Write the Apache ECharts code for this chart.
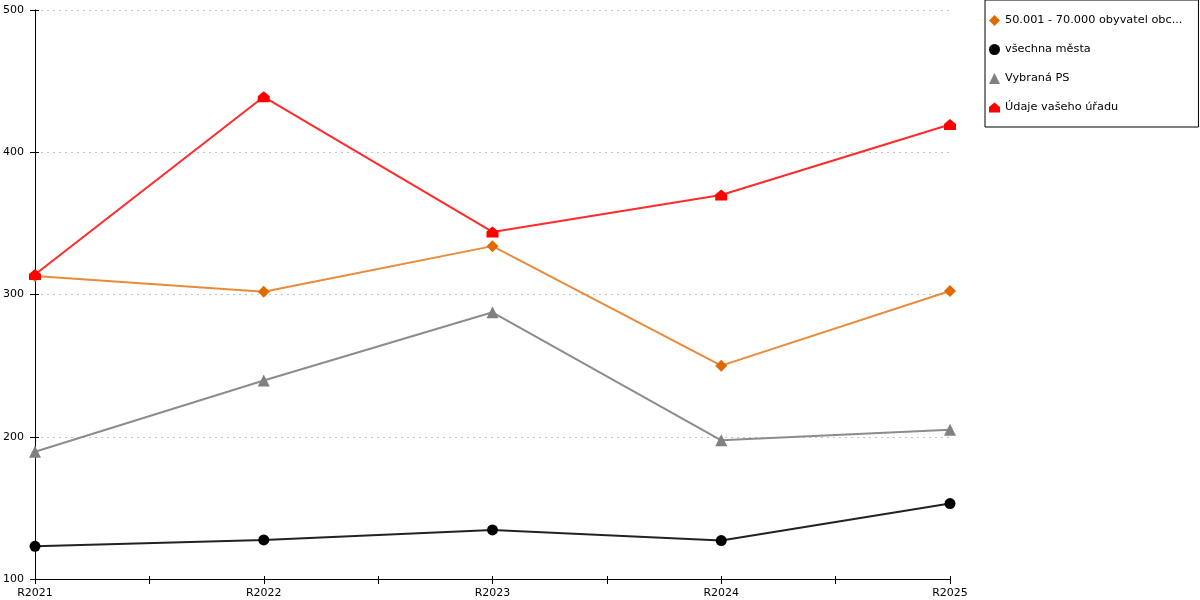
<!DOCTYPE html>
<html><head><meta charset="utf-8">
<script src="https://cdn.jsdelivr.net/npm/echarts@6/dist/echarts.min.js"></script>
<style>html,body{margin:0;padding:0;background:#fff}#c{width:1200px;height:600px}</style>
</head><body><div id="c"></div>
<script>
const categories = ['R2021','R2022','R2023','R2024','R2025'];
const seriesNames = ['50.001 - 70.000 obyvatel obc...','všechna města','Vybraná PS','Údaje vašeho úřadu'];
const orangeValues = [313, 302, 334, 250, 302.5];
const blackValues = [123, 127.5, 134.5, 127, 153];
const grayValues = [189.5, 239.5, 287.5, 197.5, 205];
const redValues = [314, 439, 344, 370, 419.5];
const yTicks = [100, 200, 300, 400, 500];

const house = 'path://M6,0 L12,5 L12,11 L0,11 L0,5 Z';
const font = 'DejaVu Sans';
function pts(arr){ return arr.map((v,i)=>[i,v]); }

const chart = echarts.init(document.getElementById('c'), null, {renderer:'canvas'});
chart.setOption({
  animation:false,
  textStyle:{fontFamily:font},
  grid:{left:35, right:250, top:10, bottom:21},
  legend:{
    orient:'vertical', left:985, top:0,
    padding:[15,16,14,4], itemGap:18, itemWidth:11, itemHeight:11,
    borderColor:'#000', borderWidth:1, backgroundColor:'#fff',
    textStyle:{fontFamily:font, fontSize:11.3, color:'#000'},
    data:[
      {name:seriesNames[0], icon:'diamond'},
      {name:seriesNames[1], icon:'circle'},
      {name:seriesNames[2], icon:'triangle'},
      {name:seriesNames[3], icon:house}
    ]
  },
  xAxis:[{
    type:'value', min:0, max:categories.length-1, interval:0.5,
    axisLine:{show:true, lineStyle:{color:'#000', width:1}},
    axisTick:{show:true, length:5, lineStyle:{color:'#000'}},
    axisLabel:{fontFamily:font, fontSize:11, color:'#000', margin:9,
      formatter:v=> Number.isInteger(v) ? categories[v] : ''},
    splitLine:{show:false}
  },{
    type:'value', min:0, max:categories.length-1, interval:0.5, position:'bottom',
    axisLine:{show:false},
    axisTick:{show:true, inside:true, length:3, lineStyle:{color:'#000'}},
    axisLabel:{show:false}, splitLine:{show:false}
  }],
  yAxis:[{
    type:'value', min:100, max:500, interval:100,
    axisLine:{show:true, lineStyle:{color:'#000', width:1}},
    axisTick:{show:true, length:5, lineStyle:{color:'#000'}},
    axisLabel:{fontFamily:font, fontSize:11, color:'#000', margin:11,
      formatter:v=> yTicks.includes(v) ? String(v) : ''},
    splitLine:{show:true, lineStyle:{color:'#c4c4c4', type:[2,4], width:1}}
  },{
    type:'value', min:100, max:500, interval:100, position:'right',
    axisLine:{show:true, lineStyle:{color:'#000', width:1}},
    axisTick:{show:false}, axisLabel:{show:false}, splitLine:{show:false}
  },{
    type:'value', min:100, max:500, interval:100, position:'left',
    axisLine:{show:false},
    axisTick:{show:true, inside:true, length:4, lineStyle:{color:'#000'}},
    axisLabel:{show:false}, splitLine:{show:false}
  }],
  series:[
    {name:seriesNames[0], type:'line', data:pts(orangeValues), color:'#E57A1E',
     symbol:'diamond', symbolSize:12, lineStyle:{width:2, color:'#EA8A3A'}, itemStyle:{color:'#E06A00'}, z:3},
    {name:seriesNames[1], type:'line', data:pts(blackValues), color:'#000',
     symbol:'circle', symbolSize:11, lineStyle:{width:2, color:'#222'}, itemStyle:{color:'#000'}, z:2},
    {name:seriesNames[2], type:'line', data:pts(grayValues), color:'#808080',
     symbol:'triangle', symbolSize:12, lineStyle:{width:2, color:'#8c8c8c'}, itemStyle:{color:'#808080'}, z:2},
    {name:seriesNames[3], type:'line', data:pts(redValues), color:'#FF0000',
     symbol:house, symbolSize:[12,11], lineStyle:{width:2, color:'#ff2a2a'}, itemStyle:{color:'#FF0000'}, z:4}
  ]
});
</script></body></html>
